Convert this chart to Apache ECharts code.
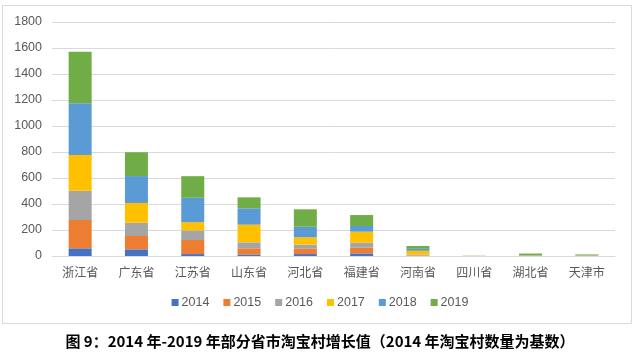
<!DOCTYPE html>
<html>
<head>
<meta charset="utf-8">
<script src="https://cdn.jsdelivr.net/npm/echarts@6/dist/echarts.min.js"></script>
<style>
  html, body { margin: 0; padding: 0; background: #fff; }
  #main { width: 640px; height: 354px; }
</style>
</head>
<body>
<div id="main"></div>
<script>
// 省市
let provinces = ['浙江省', '广东省', '江苏省', '山东省', '河北省', '福建省', '河南省', '四川省', '湖北省', '天津市'];
let years = ['2014', '2015', '2016', '2017', '2018', '2019'];
// 每年增长值, 按省市顺序
let v2014 = [59, 51, 15, 12, 15, 20, 2, 0, 1, 1];
let v2015 = [218, 103, 108, 47, 41, 44, 3, 0, 1, 1];
let v2016 = [225, 102, 74, 46, 31, 38, 5, 0, 1, 1];
let v2017 = [275, 152, 63, 136, 57, 85, 30, 0, 1, 1];
let v2018 = [398, 207, 188, 126, 81, 44, 15, 0, 1, 1];
let v2019 = [396, 183, 166, 84, 134, 84, 22, 2, 14, 7];
let yTicks = [0, 200, 400, 600, 800, 1000, 1200, 1400, 1600, 1800];
let colors = ['#4472C4', '#ED7D31', '#A5A5A5', '#FFC000', '#5B9BD5', '#70AD47'];
let caption = '图 9：2014 年-2019 年部分省市淘宝村增长值（2014 年淘宝村数量为基数）';

let allData = [v2014, v2015, v2016, v2017, v2018, v2019];
let series = years.map((y, i) => ({
    name: y,
    type: 'bar',
    stack: 'total',
    barWidth: 23,
    itemStyle: { color: colors[i] },
    data: allData[i]
}));

let chart = echarts.init(document.getElementById('main'));
chart.setOption({
    animation: false,
    textStyle: { fontFamily: '"Noto Sans CJK SC", "Liberation Sans", sans-serif' },
    grid: { left: 52, right: 25, top: 22, bottom: 98 },
    legend: {
        data: years,
        bottom: 40,
        left: 'center',
        icon: 'rect',
        itemWidth: 7,
        itemHeight: 7,
        itemGap: 14,
        textStyle: { color: '#595959', fontSize: 12.5, padding: [0, 0, 0, -2], fontFamily: '"Liberation Sans", sans-serif' }
    },
    xAxis: {
        type: 'category',
        data: provinces,
        axisTick: { show: false },
        axisLine: { lineStyle: { color: '#d9d9d9' } },
        axisLabel: { color: '#595959', fontSize: 12, margin: 10 }
    },
    yAxis: {
        type: 'value',
        min: yTicks[0],
        max: yTicks[yTicks.length - 1],
        interval: 200,
        axisLine: { show: false },
        axisTick: { show: false },
        splitLine: { lineStyle: { color: '#d9d9d9' } },
        axisLabel: {
            color: '#595959', fontSize: 12.5, margin: 10,
            fontFamily: '"Liberation Sans", sans-serif',
            formatter: (v) => String(v)
        }
    },
    graphic: [{
        type: 'rect',
        shape: { x: 2.5, y: 5.5, width: 629, height: 318 },
        style: { fill: 'none', stroke: '#d9d9d9', lineWidth: 1 },
        silent: true
    }, {
        type: 'text',
        left: 'center',
        top: 334,
        style: {
            text: caption,
            fill: '#000',
            font: 'bold 15px "Noto Sans CJK SC", sans-serif'
        }
    }],
    series: series
});
</script>
</body>
</html>
